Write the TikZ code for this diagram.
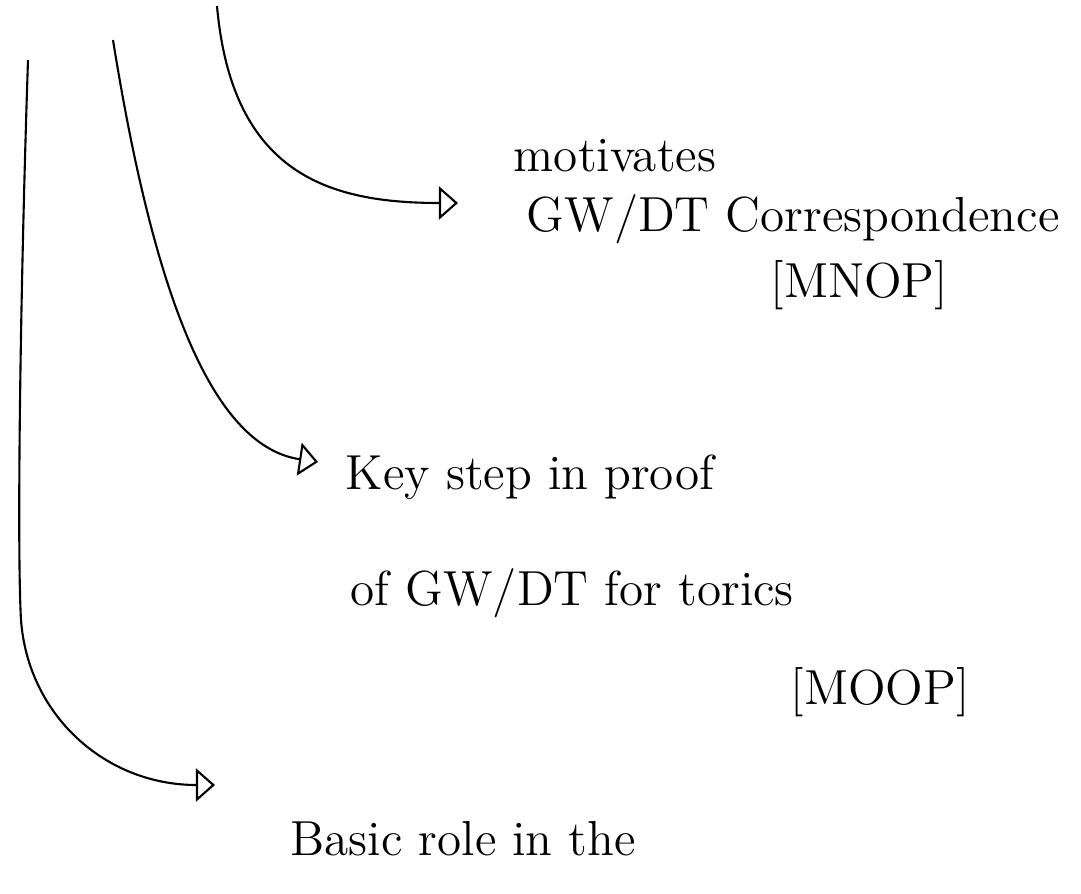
\documentclass[tikz,border=0pt]{standalone}
\usepackage{tikz}
\usetikzlibrary{arrows.meta}

\begin{document}
\begin{tikzpicture}[x=0.01cm, y=-0.01cm,
  link/.style={line width=0.6pt, -{Triangle[open, length=1.9mm, width=3.3mm]}},
  note/.style={anchor=base west, inner sep=0pt, font=\fontsize{14}{16}\selectfont}]
\useasboundingbox (0,0) rectangle (1081,894);
% start and end of the three arrows
\coordinate (TopA) at (217,6);   \coordinate (TipA) at (458,203);
\coordinate (TopB) at (113,40);  \coordinate (TipB) at (318,462);
\coordinate (TopC) at (28,60);   \coordinate (TipC) at (215,785);
\coordinate (BendC) at (21,620);
% texts
\node[note] (Motiv) at (513,172) {motivates};
\node[note] (Corr) at (526,232) {GW/DT Correspondence};
\node[note] (Mnop) at (770,298) {[MNOP]};
\node[note] (Key) at (345,490) {Key step in proof};
\node[note] (Toric) at (350,606) {of GW/DT for torics};
\node[note] (Moop) at (790,705) {[MOOP]};
\node[note] (Basic) at (290,855) {Basic role in the};
% arrows
\draw[link] (TopA) .. controls (232,175) and (330,203) .. (TipA);
\draw[link] (TopB) .. controls (150,270) and (205,445) .. (TipB);
\draw[link] (TopC) .. controls (20,300) and (17,550) .. (BendC) .. controls (28,715) and (105,785) .. (TipC);
\end{tikzpicture}
\end{document}
